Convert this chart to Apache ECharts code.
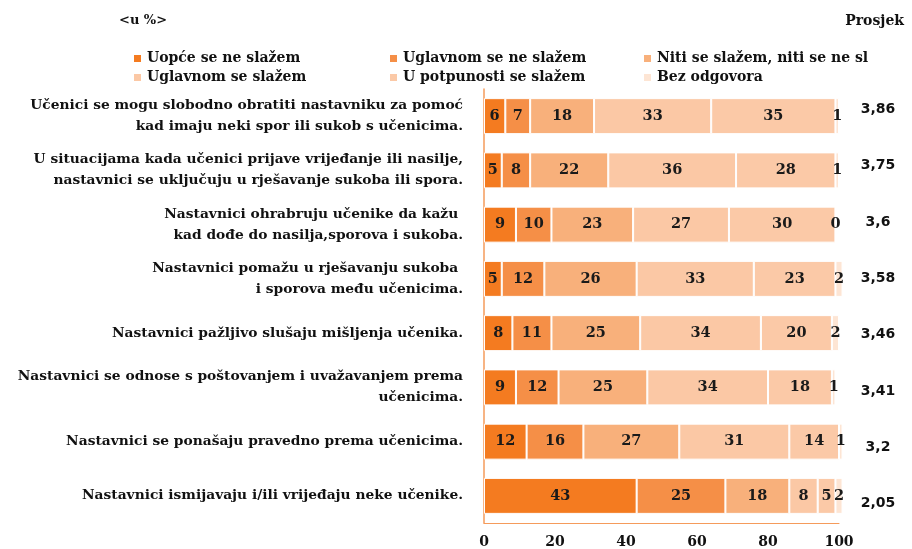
<!DOCTYPE html>
<html>
<head>
<meta charset="utf-8">
<script src="https://cdn.jsdelivr.net/npm/echarts@6/dist/echarts.min.js"></script>
<style>
  html, body { margin: 0; padding: 0; background: #fff; }
  #chart { width: 912px; height: 549px; }
</style>
</head>
<body>
<div id="chart"></div>
<script>
// Statements (rows, top to bottom)
const statements = [
  "Učenici se mogu slobodno obratiti nastavniku za pomoć\nkad imaju neki spor ili sukob s učenicima.",
  "U situacijama kada učenici prijave vrijeđanje ili nasilje,\nnastavnici se uključuju u rješavanje sukoba ili spora.",
  "Nastavnici ohrabruju učenike da kažu \nkad dođe do nasilja,sporova i sukoba.",
  "Nastavnici pomažu u rješavanju sukoba \ni sporova među učenicima.",
  "Nastavnici pažljivo slušaju mišljenja učenika.",
  "Nastavnici se odnose s poštovanjem i uvažavanjem prema\nučenicima.",
  "Nastavnici se ponašaju pravedno prema učenicima.",
  "Nastavnici ismijavaju i/ili vrijeđaju neke učenike."
];

// Answer categories
const answers = [
  "Uopće se ne slažem",
  "Uglavnom se ne slažem",
  "Niti se slažem, niti se ne slažem",
  "Uglavnom se slažem",
  "U potpunosti se slažem",
  "Bez odgovora"
];

// Percentages per answer, one value per statement
const uopceNe = [6, 5, 9, 5, 8, 9, 12, 43];
const uglavnomNe = [7, 8, 10, 12, 11, 12, 16, 25];
const nitiNiti = [18, 22, 23, 26, 25, 25, 27, 18];
const uglavnomDa = [33, 36, 27, 33, 34, 34, 31, 8];
const potpunoDa = [35, 28, 30, 23, 20, 18, 14, 5];
const bezOdgovora = [1, 1, 0, 2, 2, 1, 1, 2];

// Average score per statement
const prosjek = ["3,86", "3,75", "3,6", "3,58", "3,46", "3,41", "3,2", "2,05"];

const xTicks = [0, 100, 20];

const colors = ["#F47B20", "#F58F47", "#F8B07B", "#FBC8A5", "#FBC9A7", "#FDE5D4"];
const serif = "DejaVu Serif";

const chart = echarts.init(document.getElementById("chart"));

const seriesData = [uopceNe, uglavnomNe, nitiNiti, uglavnomDa, potpunoDa, bezOdgovora];

const series = seriesData.map((values, i) => ({
  name: answers[i],
  type: "bar",
  stack: "total",
  barWidth: 36,
  clip: false,
  xAxisIndex: 0,
  yAxisIndex: 0,
  data: values,
  itemStyle: { color: colors[i], borderColor: "#fff", borderWidth: 1 },
  label: {
    show: true,
    position: "inside",
    color: "#1a1a1a",
    fontFamily: serif,
    fontWeight: "bold",
    fontSize: 14.5,
  },
  emphasis: { disabled: true },
}));

// one legend per column, two rows each
const legendCols = [127, 383, 637];
const legends = legendCols.map((left, c) => ({
  icon: "rect",
  itemWidth: 9,
  itemHeight: 9,
  itemGap: 2,
  left: left,
  top: 45,
  orient: "vertical",
  data: [answers[c], answers[c + 3]],
  textStyle: {
    fontFamily: serif,
    fontWeight: "bold",
    fontSize: 14,
    lineHeight: 17,
    color: "#111",
    width: 217,
    overflow: "truncate",
    ellipsis: "",
  },
}));

const option = {
  animation: false,
  color: colors,
  title: [
    {
      text: "<u %>",
      left: 114,
      top: 9,
      textStyle: { fontFamily: serif, fontWeight: "bold", fontSize: 13, color: "#111" },
    },
    {
      text: "Prosjek",
      right: 3,
      top: 9,
      textStyle: { fontFamily: serif, fontWeight: "bold", fontSize: 14, color: "#111" },
    },
  ],
  legend: legends,
  grid: [
    { left: 484, right: 73, top: 89, bottom: 22 },
    { left: 847, right: 5, top: 81, bottom: 17 },
  ],
  xAxis: [
    {
      gridIndex: 0,
      type: "value",
      min: xTicks[0],
      max: xTicks[1],
      interval: xTicks[2],
      splitLine: { show: false },
      axisTick: { show: false },
      axisLine: { show: true, lineStyle: { color: "#F59B5B", width: 1 } },
      axisLabel: {
        color: "#111",
        fontFamily: serif,
        fontWeight: "bold",
        fontSize: 14,
        margin: 12,
      },
    },
    { gridIndex: 1, type: "value", show: false },
  ],
  yAxis: [
    {
      gridIndex: 0,
      type: "category",
      inverse: true,
      data: statements,
      axisTick: { show: false },
      axisLine: { show: true, lineStyle: { color: "#F59B5B", width: 1.5 } },
      axisLabel: {
        color: "#111",
        fontFamily: serif,
        fontWeight: "bold",
        fontSize: 13.8,
        lineHeight: 21,
        align: "right",
        margin: 21,
      },
    },
    {
      gridIndex: 1,
      type: "category",
      inverse: true,
      data: prosjek,
      axisTick: { show: false },
      axisLine: { show: false },
      splitLine: { show: false },
      axisLabel: {
        color: "#111",
        fontFamily: "DejaVu Sans",
        fontWeight: "bold",
        fontSize: 14,
        align: "center",
        margin: -31,
      },
    },
  ],
  series: series,
};

chart.setOption(option);
</script>
</body>
</html>
